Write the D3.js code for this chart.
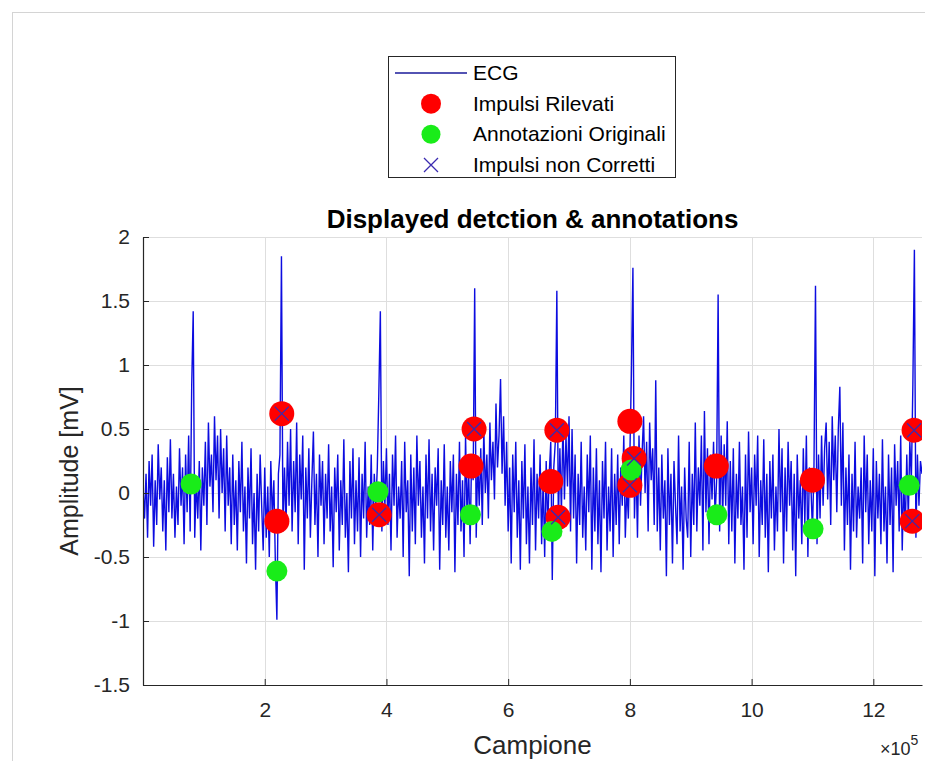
<!DOCTYPE html>
<html>
<head>
<meta charset="utf-8">
<script src="https://cdn.jsdelivr.net/npm/d3@7"></script>
<style>
  body { margin: 0; background: #fff; }
  svg { display: block; font-family: "Liberation Sans", Arial, Helvetica, sans-serif; }
</style>
</head>
<body>
<div id="grafico"></div>
<script>
// ECG samples, one every 2500 campioni (0 .. 12.8e5)
const ecgStep = 2500
const ecgValues = [
  0.05, -0.20, 0.15, -0.35, 0.25, -0.10, 0.30, -0.42, 0.10, -0.25, 0.38, -0.05, 0.20, -0.30, 0.10, -0.45, 0.28, -0.15, 0.42, -0.20,
  0.15, -0.35, 0.05, -0.25, 0.35, -0.10, 0.20, -0.40, 0.30, -0.15, 0.45, -0.30, 0.83, 1.42, -0.35, 0.10, -0.20, 0.25, -0.45, 0.20,
  -0.10, 0.40, -0.25, 0.55, 0.05, 0.30, -0.15, 0.60, 0.10, 0.45, -0.20, 0.50, 0.00, 0.35, -0.30, 0.45, -0.10, 0.20, -0.40, 0.30,
  -0.25, 0.10, -0.45, 0.25, -0.15, 0.40, -0.30, 0.05, -0.55, 0.20, -0.20, 0.35, -0.40, 0.00, -0.60, 0.15, -0.30, 0.30, -0.10, -0.45,
  0.20, -0.35, 0.05, -0.50, 0.25, -0.20, 0.10, -0.55, -0.99, 0.15, 0.30, 1.85, -0.30, 0.20, -0.25, 0.40, -0.10, 0.50, -0.30, 0.25,
  -0.15, 0.55, -0.40, 0.30, -0.05, 0.45, -0.60, 0.20, -0.20, 0.35, -0.35, 0.10, 0.48, -0.25, 0.15, -0.50, 0.30, -0.10, 0.25, -0.40,
  0.15, -0.20, 0.38, -0.30, 0.05, -0.58, 0.20, -0.15, 0.30, -0.45, 0.10, -0.25, 0.42, -0.35, 0.00, -0.62, 0.25, -0.20, 0.35, -0.40,
  0.10, -0.30, 0.28, -0.50, 0.15, -0.20, 0.40, -0.35, 0.05, -0.25, 0.30, -0.45, 0.15, -0.10, 0.20, 0.78, 1.42, -0.30, 0.25, -0.10,
  0.35, -0.25, 0.15, -0.45, 0.30, -0.10, 0.45, -0.35, 0.05, -0.20, 0.25, -0.50, 0.40, -0.15, 0.10, -0.65, 0.30, -0.30, 0.20, -0.40,
  0.45, -0.10, 0.25, -0.35, 0.05, -0.55, 0.30, -0.20, 0.42, -0.30, 0.15, -0.45, 0.20, -0.10, 0.35, -0.60, 0.10, -0.25, 0.38, -0.35,
  0.05, -0.45, 0.25, -0.15, 0.30, -0.62, 0.15, -0.25, 0.40, -0.30, 0.10, -0.50, 0.45, -0.20, 0.20, -0.40, 0.30, 0.10, 1.60, -0.35,
  0.25, -0.10, 0.35, -0.25, 0.50, 0.00, 0.30, -0.20, 0.55, 0.10, 0.40, -0.05, 0.70, 0.20, 0.45, 0.89, 0.15, 0.60, -0.10, 0.40,
  -0.30, 0.20, -0.55, 0.30, -0.15, 0.40, -0.35, 0.10, -0.60, 0.25, -0.20, 0.38, -0.40, 0.05, -0.55, 0.20, -0.25, 0.42, -0.45, 0.15,
  -0.20, 0.30, -0.40, 0.10, -0.50, 0.25, -0.30, 0.15, 0.40, -0.68, 0.20, 0.40, 1.58, -0.25, 0.35, -0.15, 0.55, -0.05, 0.45, 0.05,
  0.60, -0.30, 0.50, -0.20, 0.30, -0.55, 0.15, -0.25, 0.40, -0.35, 0.05, -0.45, 0.30, -0.15, 0.45, -0.60, 0.20, -0.30, 0.35, -0.40,
  0.10, -0.62, 0.25, -0.20, 0.40, -0.45, 0.05, -0.30, 0.35, -0.50, 0.15, -0.25, 0.30, -0.40, 0.20, -0.10, 0.45, -0.35, 0.05, -0.20,
  0.30, 0.93, 1.76, -0.20, 0.25, -0.35, 0.45, -0.10, 0.30, 0.60, 0.00, 0.40, -0.30, 0.55, 0.10, 0.35, -0.25, 0.88, -0.30, 0.20,
  -0.45, 0.30, -0.20, 0.10, -0.65, 0.35, -0.25, 0.15, -0.55, 0.25, -0.10, -0.40, 0.45, -0.30, 0.05, -0.60, 0.20, -0.20, -0.35, 0.40,
  -0.50, 0.15, -0.25, 0.55, -0.30, 0.20, -0.10, 0.45, -0.45, 0.64, -0.15, 0.35, -0.40, 0.30, -0.05, 0.40, -0.20, 0.10, 1.55, -0.30,
  0.45, -0.20, 0.38, -0.10, 0.56, -0.40, 0.25, -0.30, 0.35, -0.55, 0.15, -0.20, 0.40, -0.25, 0.05, -0.60, 0.30, -0.35, 0.48, -0.15,
  0.20, -0.40, 0.30, -0.10, 0.45, -0.50, 0.10, -0.25, 0.42, -0.35, 0.15, -0.62, 0.25, -0.20, 0.30, -0.45, 0.05, -0.30, 0.50, -0.15,
  0.35, -0.55, 0.20, -0.30, 0.40, -0.10, 0.25, -0.45, 0.15, -0.65, 0.30, -0.20, 0.10, -0.40, 0.35, -0.25, 0.45, -0.50, 0.20, 0.05,
  -0.30, 0.20, 1.62, -0.40, 0.30, -0.20, 0.45, -0.10, 0.35, 0.55, -0.05, 0.40, -0.25, 0.60, 0.10, 0.45, -0.15, 0.50, 0.83, -0.10,
  0.55, -0.45, 0.20, -0.25, 0.30, -0.60, 0.15, -0.30, 0.40, -0.35, 0.05, -0.20, 0.20, -0.55, 0.45, -0.15, 0.30, -0.40, 0.10, -0.30,
  0.35, -0.65, 0.25, -0.20, 0.15, -0.40, 0.42, -0.30, 0.05, -0.55, 0.30, -0.25, 0.20, -0.62, 0.38, -0.10, 0.25, -0.30, 0.45, -0.45,
  0.10, -0.30, 0.30, -0.20, 0.40, 0.10, 0.85, 1.90, -0.35, 0.30, -0.10, 0.25, 0.15
]

// Impulsi Rilevati (red)
const rilevatiX = [2.28e5, 2.20e5, 3.88e5, 5.44e5, 5.39e5, 6.80e5, 6.70e5, 6.82e5, 8.00e5, 8.07e5, 8.00e5, 9.42e5, 11.00e5, 12.67e5, 12.64e5]
const rilevatiY = [0.62, -0.22, -0.17, 0.50, 0.21, 0.49, 0.09, -0.19, 0.56, 0.27, 0.06, 0.21, 0.10, 0.49, -0.22]

// Annotazioni Originali (green)
const annotX = [0.79e5, 2.20e5, 3.86e5, 5.38e5, 6.72e5, 8.02e5, 9.43e5, 11.01e5, 12.59e5]
const annotY = [0.07, -0.61, 0.01, -0.17, -0.30, 0.18, -0.17, -0.28, 0.06]

// Impulsi non Corretti (blue x)
const nonCorrX = [2.28e5, 3.88e5, 5.44e5, 6.80e5, 6.82e5, 8.07e5, 8.00e5, 12.67e5, 12.64e5]
const nonCorrY = [0.62, -0.17, 0.50, 0.49, -0.19, 0.27, 0.06, 0.49, -0.22]

const xTicks = [2e5, 4e5, 6e5, 8e5, 10e5, 12e5]
const yTicks = [-1.5, -1, -0.5, 0, 0.5, 1, 1.5, 2]
const legendLabels = ["ECG", "Impulsi Rilevati", "Annotazioni Originali", "Impulsi non Corretti"]

const dim = {
  width: 925,
  height: 761,
  left: 143,
  right: 922,
  top: 237,
  bottom: 685,
}
const tickColor = "#262626"

const svg = d3.select("#grafico").append("svg")
  .attr("width", dim.width)
  .attr("height", dim.height)

// figure frame
svg.append("rect")
  .attr("x", 12.5).attr("y", 12.5)
  .attr("width", dim.width).attr("height", dim.height)
  .attr("fill", "#fff")
  .attr("stroke", "#d4d4d4")

const xScale = d3.scaleLinear().domain([0, 12.8e5]).range([dim.left, dim.right])
const yScale = d3.scaleLinear().domain([-1.5, 2]).range([dim.bottom, dim.top])

// grid
const grid = svg.append("g").attr("stroke", "#dedede").attr("stroke-width", 1)
grid.selectAll("line.gx").data(xTicks).join("line")
  .attr("x1", d => Math.round(xScale(d)) + 0.5).attr("x2", d => Math.round(xScale(d)) + 0.5)
  .attr("y1", dim.top).attr("y2", dim.bottom)
grid.selectAll("line.gy").data(yTicks).join("line")
  .attr("y1", d => Math.round(yScale(d)) + 0.5).attr("y2", d => Math.round(yScale(d)) + 0.5)
  .attr("x1", dim.left).attr("x2", dim.right)

svg.append("clipPath").attr("id", "clip")
  .append("rect")
  .attr("x", dim.left).attr("y", dim.top)
  .attr("width", dim.right - dim.left).attr("height", dim.bottom - dim.top)

const plot = svg.append("g").attr("clip-path", "url(#clip)")

const ecgLine = d3.line()
  .x((d, i) => xScale(i * ecgStep))
  .y(d => yScale(d))

plot.append("path")
  .datum(ecgValues)
  .attr("d", ecgLine)
  .attr("fill", "none")
  .attr("stroke", "#0c0ce0")
  .attr("stroke-width", 1.4)

plot.selectAll("circle.ril").data(rilevatiX).join("circle")
  .attr("class", "ril")
  .attr("cx", d => xScale(d))
  .attr("cy", (d, i) => yScale(rilevatiY[i]))
  .attr("r", 12.5)
  .attr("fill", "#ff0000")

plot.selectAll("circle.ann").data(annotX).join("circle")
  .attr("class", "ann")
  .attr("cx", d => xScale(d))
  .attr("cy", (d, i) => yScale(annotY[i]))
  .attr("r", 10.5)
  .attr("fill", "#19ec19")

const crossPath = (cx, cy, s) =>
  `M${cx - s},${cy - s}L${cx + s},${cy + s}M${cx - s},${cy + s}L${cx + s},${cy - s}`

plot.selectAll("path.nc").data(nonCorrX).join("path")
  .attr("class", "nc")
  .attr("d", (d, i) => crossPath(xScale(d), yScale(nonCorrY[i]), 7))
  .attr("stroke", "#3a2ab0")
  .attr("stroke-width", 1.3)
  .attr("fill", "none")

// axes
const xAxis = d3.axisBottom(xScale)
  .tickValues(xTicks)
  .tickSize(-6)
  .tickSizeOuter(0)
  .tickPadding(17)
  .tickFormat(d => String(d / 1e5))
const xAxisG = svg.append("g")
  .attr("transform", `translate(0, ${dim.bottom})`)
  .call(xAxis)

const yAxis = d3.axisLeft(yScale)
  .tickValues(yTicks)
  .tickSize(-6)
  .tickSizeOuter(0)
  .tickPadding(13)
  .tickFormat(d => String(d))
const yAxisG = svg.append("g")
  .attr("transform", `translate(${dim.left}, 0)`)
  .call(yAxis)

for (const g of [xAxisG, yAxisG]) {
  g.select(".domain").attr("stroke", tickColor).attr("stroke-width", 1.2)
  g.selectAll(".tick line").attr("stroke", tickColor)
  g.selectAll(".tick text")
    .attr("fill", tickColor)
    .style("font-size", "21px")
    .style("font-family", "Liberation Sans, Arial, sans-serif")
}

// labels
svg.append("text")
  .attr("x", (dim.left + dim.right) / 2)
  .attr("y", 228)
  .attr("text-anchor", "middle")
  .attr("fill", "#000")
  .style("font-size", "26px")
  .style("font-weight", "bold")
  .text("Displayed detction & annotations")

svg.append("text")
  .attr("x", (dim.left + dim.right) / 2)
  .attr("y", 754)
  .attr("text-anchor", "middle")
  .attr("fill", tickColor)
  .style("font-size", "26px")
  .text("Campione")

const esp = svg.append("text")
  .attr("x", 880)
  .attr("y", 755)
  .attr("fill", tickColor)
  .style("font-size", "18px")
esp.append("tspan").text("\u00d710")
esp.append("tspan").attr("dy", -10).style("font-size", "14px").text("5")

svg.append("text")
  .attr("transform", `translate(78, 471) rotate(-90)`)
  .attr("text-anchor", "middle")
  .attr("fill", tickColor)
  .style("font-size", "25px")
  .text("Amplitude [mV]")

// legend
const leg = svg.append("g")
leg.append("rect")
  .attr("x", 388.5).attr("y", 56.5)
  .attr("width", 287).attr("height", 121)
  .attr("fill", "#fff")
  .attr("stroke", tickColor)

const legY = d3.scalePoint().domain(legendLabels).range([73, 165])
const markX = 431

leg.append("line")
  .attr("x1", 395).attr("x2", 467)
  .attr("y1", legY("ECG")).attr("y2", legY("ECG"))
  .attr("stroke", "#1a1a9a").attr("stroke-width", 1.3)
leg.append("circle")
  .attr("cx", markX).attr("cy", legY("Impulsi Rilevati"))
  .attr("r", 10).attr("fill", "#ff0000")
leg.append("circle")
  .attr("cx", markX).attr("cy", legY("Annotazioni Originali"))
  .attr("r", 9.5).attr("fill", "#19ec19")
leg.append("path")
  .attr("d", crossPath(markX, legY("Impulsi non Corretti"), 7))
  .attr("stroke", "#3a2ab0").attr("stroke-width", 1.3)

leg.selectAll("text").data(legendLabels).join("text")
  .attr("x", 473)
  .attr("y", d => legY(d) + 7)
  .attr("fill", "#000")
  .style("font-size", "21px")
  .text(d => d)
</script>
</body>
</html>
